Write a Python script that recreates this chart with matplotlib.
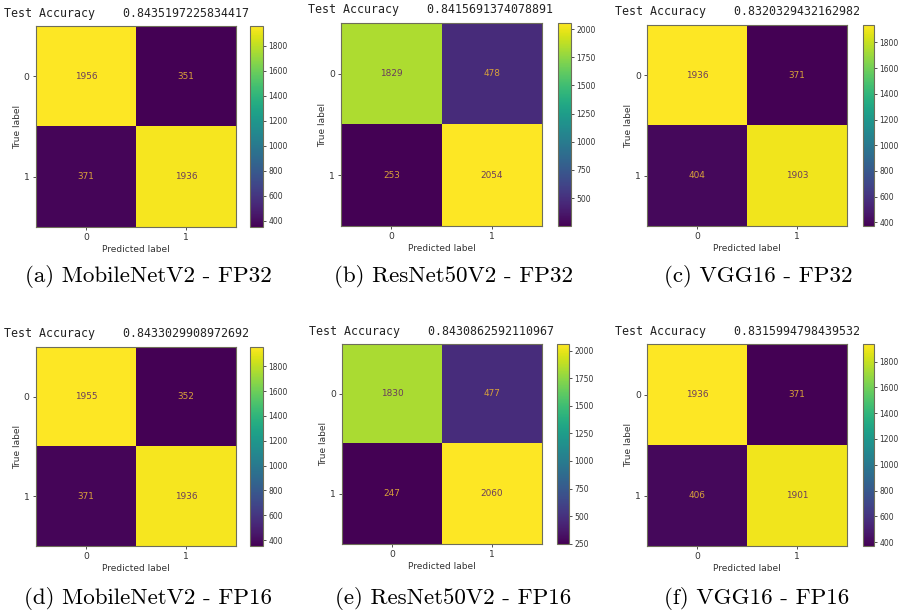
import matplotlib
matplotlib.use("Agg")
import matplotlib.pyplot as plt
from matplotlib.ticker import MultipleLocator
import numpy as np

# confusion matrices (rows = true label, cols = predicted)
cm_mobilenet_fp32 = [[1956, 351], [371, 1936]]
cm_resnet_fp32 = [[1829, 478], [253, 2054]]
cm_vgg_fp32 = [[1936, 371], [404, 1903]]
cm_mobilenet_fp16 = [[1955, 352], [371, 1936]]
cm_resnet_fp16 = [[1830, 477], [247, 2060]]
cm_vgg_fp16 = [[1936, 371], [406, 1901]]

accuracies = ["0.8435197225834417", "0.8415691374078891", "0.8320329432162982",
              "0.8433029908972692", "0.8430862592110967", "0.8315994798439532"]
captions = ["(a) MobileNetV2 - FP32", "(b) ResNet50V2 - FP32", "(c) VGG16 - FP32",
            "(d) MobileNetV2 - FP16", "(e) ResNet50V2 - FP16", "(f) VGG16 - FP16"]
cbar_steps = [200, 250, 200, 200, 250, 200]
class_labels = ["0", "1"]

matrices = [cm_mobilenet_fp32, cm_resnet_fp32, cm_vgg_fp32,
            cm_mobilenet_fp16, cm_resnet_fp16, cm_vgg_fp16]

W, H = 905, 612

# pixel boxes for each panel: matrix axes, colorbar, title anchor, caption centre
layout = [
    dict(ax=(36, 26, 236, 227), cb=(250, 26, 263, 227), title=(4, 13), cap=(148.5, 277)),
    dict(ax=(341, 23, 542, 226), cb=(558, 23, 571, 226), title=(308, 10), cap=(453, 277)),
    dict(ax=(647, 25, 847, 226), cb=(863, 25, 874, 226), title=(615, 12), cap=(758, 277)),
    dict(ax=(36, 347, 236, 546), cb=(250, 347, 263, 546), title=(4, 334), cap=(148.5, 598)),
    dict(ax=(342, 344, 542, 544), cb=(557, 344, 569, 544), title=(309, 332), cap=(453, 598)),
    dict(ax=(647, 344, 847, 546), cb=(863, 344, 874, 546), title=(615, 331), cap=(757, 598)),
]


def px_axes(fig, box):
    x0, y0, x1, y1 = box
    return fig.add_axes([x0 / W, 1 - y1 / H, (x1 - x0) / W, (y1 - y0) / H])


fig = plt.figure(figsize=(W / 100, H / 100), dpi=100)
fig.patch.set_facecolor("white")

label_col = "#333333"
spine_col = "#6e6e5a"

for i in range(0, len(matrices)):
    cm = np.array(matrices[i])
    lay = layout[i]
    ax = px_axes(fig, lay["ax"])
    im = ax.imshow(cm, cmap="viridis", interpolation="nearest", aspect="auto")

    thresh = (cm.max() + cm.min()) / 2.0
    for r in range(cm.shape[0]):
        for c in range(cm.shape[1]):
            col = "#6a3c5c" if cm[r, c] > thresh else "#d9a23a"
            ax.text(c, r, str(cm[r, c]), ha="center", va="center",
                    fontsize=6.4, color=col)

    ax.set_xticks(range(len(class_labels)))
    ax.set_yticks(range(len(class_labels)))
    ax.set_xticklabels(class_labels)
    ax.set_yticklabels(class_labels)
    ax.tick_params(labelsize=6.6, colors=label_col, length=2.5, width=0.6, pad=2)
    ax.set_xlabel("Predicted label", fontsize=6.5, color=label_col, labelpad=2)
    ax.set_ylabel("True label", fontsize=6.5, color=label_col, labelpad=1)
    for s in ax.spines.values():
        s.set_color(spine_col)
        s.set_linewidth(0.8)

    cax = px_axes(fig, lay["cb"])
    cb = fig.colorbar(im, cax=cax)
    cb.locator = MultipleLocator(cbar_steps[i])
    cb.update_ticks()
    cb.ax.tick_params(labelsize=5.5, colors=label_col, length=2.5, width=0.6, pad=1.5)
    cb.outline.set_edgecolor(spine_col)
    cb.outline.set_linewidth(0.8)

    tx, ty = lay["title"]
    fig.text(tx / W, 1 - ty / H, "Test Accuracy    " + accuracies[i],
             family="DejaVu Sans Mono", fontsize=8.4, color="#222222",
             ha="left", va="center")

    cx, cy = lay["cap"]
    fig.text(cx / W, 1 - cy / H, captions[i], family="cmr10", fontsize=16.6,
             color="black", ha="center", va="center")

fig.savefig("out.png", dpi=100)
